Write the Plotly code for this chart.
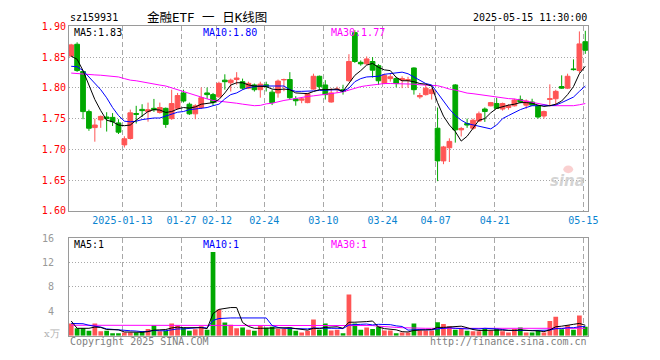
import plotly.graph_objects as go

# ---------------- data ----------------
opens = [1.8516, 1.8708, 1.8266, 1.7614, 1.7354, 1.7479, 1.7526, 1.752, 1.743, 1.7073,
         1.7177, 1.7583, 1.765, 1.7614, 1.7667, 1.760, 1.7667, 1.75, 1.7667, 1.7917,
         1.7734, 1.7578, 1.768, 1.7917, 1.789, 1.7854, 1.8125, 1.8083, 1.8135, 1.81,
         1.7995, 1.8047, 1.797, 1.805, 1.793, 1.7917, 1.813, 1.8135, 1.782, 1.780,
         1.776, 1.798, 1.8188, 1.8047, 1.777, 1.797, 1.797, 1.8116, 1.8897, 1.8415,
         1.839, 1.8428, 1.836, 1.807, 1.815, 1.815, 1.8125, 1.812, 1.8323, 1.7854,
         1.789, 1.7906, 1.7344, 1.6813, 1.7026, 1.8047, 1.7318, 1.742, 1.7344, 1.746,
         1.7656, 1.7708, 1.7745, 1.7656, 1.768, 1.7708, 1.7812, 1.7719, 1.777, 1.7708,
         1.7542, 1.7812, 1.7823, 1.8021, 1.7995, 1.8307, 1.8281, 1.875]
highs = [1.8715, 1.874, 1.8275, 1.7646, 1.75, 1.755, 1.7604, 1.759, 1.749, 1.7213,
         1.7646, 1.7708, 1.7734, 1.776, 1.782, 1.776, 1.768, 1.797, 1.7917, 1.797,
         1.776, 1.7734, 1.8005, 1.8005, 1.7917, 1.81, 1.822, 1.815, 1.8255, 1.815,
         1.81, 1.807, 1.81, 1.81, 1.797, 1.8135, 1.815, 1.8255, 1.7865, 1.785,
         1.7917, 1.823, 1.82, 1.8125, 1.7995, 1.802, 1.805, 1.8547, 1.8938, 1.8445,
         1.851, 1.850, 1.8385, 1.823, 1.823, 1.818, 1.8188, 1.818, 1.8333, 1.7917,
         1.8047, 1.7995, 1.768, 1.7057, 1.718, 1.806, 1.7365, 1.75, 1.75, 1.7615,
         1.7682, 1.7771, 1.7839, 1.776, 1.7734, 1.7823, 1.7875, 1.7812, 1.7823, 1.7719,
         1.763, 1.8057, 1.7969, 1.8203, 1.823, 1.8463, 1.8917, 1.8927]
lows = [1.850, 1.826, 1.749, 1.7302, 1.7125, 1.735, 1.729, 1.738, 1.725, 1.703,
        1.716, 1.742, 1.7526, 1.745, 1.761, 1.758, 1.735, 1.748, 1.7646, 1.776,
        1.756, 1.749, 1.7656, 1.782, 1.771, 1.784, 1.797, 1.794, 1.805, 1.797,
        1.798, 1.794, 1.784, 1.794, 1.772, 1.784, 1.7945, 1.781, 1.771, 1.775,
        1.775, 1.797, 1.797, 1.781, 1.776, 1.792, 1.789, 1.810, 1.8406, 1.836,
        1.8375, 1.8167, 1.8047, 1.806, 1.81, 1.801, 1.7995, 1.800, 1.789, 1.7823,
        1.7875, 1.781, 1.6484, 1.676, 1.6795, 1.711, 1.721, 1.735, 1.7318, 1.7447,
        1.7447, 1.770, 1.7656, 1.763, 1.7646, 1.7698, 1.775, 1.766, 1.7708, 1.75,
        1.75, 1.7708, 1.7708, 1.7984, 1.798, 1.8281, 1.824, 1.8552]
closes = [1.8698, 1.8281, 1.7614, 1.7344, 1.7396, 1.7536, 1.7500, 1.745, 1.728, 1.7172,
          1.7594, 1.757, 1.763, 1.7646, 1.7646, 1.768, 1.7406, 1.7745, 1.7875, 1.7786,
          1.7578, 1.7708, 1.7838, 1.789, 1.776, 1.8073, 1.81, 1.8125, 1.816, 1.7995,
          1.8073, 1.797, 1.806, 1.802, 1.776, 1.811, 1.8135, 1.784, 1.779, 1.782,
          1.7906, 1.8188, 1.802, 1.789, 1.7917, 1.798, 1.794, 1.8428, 1.8428, 1.839,
          1.847, 1.8287, 1.8115, 1.8203, 1.818, 1.807, 1.815, 1.8135, 1.797, 1.7875,
          1.7995, 1.797, 1.6813, 1.704, 1.713, 1.7318, 1.734, 1.7396, 1.7474, 1.7578,
          1.7615, 1.776, 1.7667, 1.7745, 1.7708, 1.7802, 1.777, 1.7786, 1.7719, 1.7526,
          1.7615, 1.7823, 1.7943, 1.7995, 1.8188, 1.8297, 1.8714, 1.861]

ma5 = [1.8516, 1.8464, 1.828, 1.8047, 1.781, 1.763, 1.7474, 1.745, 1.7396, 1.7385,
       1.7396, 1.7474, 1.755, 1.7615, 1.7646, 1.764, 1.760, 1.7615, 1.7656, 1.768,
       1.767, 1.769, 1.7734, 1.7745, 1.776, 1.781, 1.7917, 1.8045, 1.8083, 1.8083,
       1.8047, 1.803, 1.803, 1.802, 1.798, 1.797, 1.798, 1.797, 1.7917, 1.7906,
       1.7906, 1.794, 1.797, 1.797, 1.798, 1.798, 1.7943, 1.8073, 1.8203, 1.828,
       1.837, 1.8396, 1.8333, 1.8292, 1.828, 1.817, 1.8115, 1.8115, 1.81, 1.807,
       1.806, 1.803, 1.776, 1.754, 1.7396, 1.729, 1.7135, 1.7213, 1.7344, 1.7474,
       1.75, 1.7594, 1.7667, 1.7698, 1.7719, 1.7734, 1.776, 1.776, 1.775, 1.7719,
       1.7698, 1.771, 1.7734, 1.7786, 1.789, 1.802, 1.8229, 1.835]
ma10 = [1.835, 1.8344, 1.828, 1.8177, 1.8083, 1.797, 1.7838, 1.768, 1.755, 1.7458,
        1.7448, 1.7458, 1.7484, 1.75, 1.751, 1.751, 1.754, 1.7578, 1.7604, 1.7615,
        1.7646, 1.7656, 1.7667, 1.768, 1.771, 1.7734, 1.782, 1.789, 1.7917, 1.797,
        1.8005, 1.802, 1.803, 1.803, 1.803, 1.803, 1.803, 1.797, 1.7943, 1.7943,
        1.7943, 1.795, 1.7958, 1.7958, 1.7958, 1.797, 1.7943, 1.7995, 1.81, 1.815,
        1.8177, 1.8177, 1.8188, 1.822, 1.8229, 1.824, 1.8255, 1.8229, 1.8177, 1.8125,
        1.807, 1.8047, 1.7917, 1.7786, 1.7656, 1.755, 1.7474, 1.742, 1.7396, 1.737,
        1.7354, 1.7333, 1.7396, 1.75, 1.755, 1.7604, 1.7646, 1.768, 1.771, 1.771,
        1.772, 1.771, 1.772, 1.776, 1.781, 1.785, 1.7943, 1.803]
ma30 = [1.824, 1.823, 1.8225, 1.822, 1.821, 1.8205, 1.8195, 1.8185, 1.8177, 1.815,
        1.8125, 1.8115, 1.8095, 1.8075, 1.806, 1.8045, 1.803, 1.800, 1.797, 1.793,
        1.790, 1.787, 1.784, 1.782, 1.7795, 1.7786, 1.777, 1.776, 1.775, 1.7735,
        1.772, 1.771, 1.7715, 1.774, 1.775, 1.7775, 1.7795, 1.781, 1.783, 1.785,
        1.786, 1.787, 1.788, 1.789, 1.7905, 1.792, 1.7935, 1.7965, 1.7995, 1.802,
        1.8035, 1.805, 1.806, 1.807, 1.807, 1.807, 1.807, 1.8065, 1.806, 1.805,
        1.8047, 1.8045, 1.8035, 1.801, 1.798, 1.7965, 1.794, 1.7915, 1.7905, 1.789,
        1.7875, 1.7865, 1.785, 1.784, 1.7825, 1.782, 1.780, 1.779, 1.777, 1.775,
        1.772, 1.771, 1.771, 1.771, 1.771, 1.771, 1.7725, 1.7745]

volumes = [2.0, 1.2, 1.2, 0.8, 2.0, 0.7, 0.8, 0.4, 0.4, 0.5,
           0.5, 0.5, 0.7, 1.1, 1.7, 0.7, 0.8, 2.0, 1.7, 1.35,
           0.8, 1.05, 1.55, 0.95, 13.7, 4.3, 2.15, 1.8, 1.2, 1.35,
           0.95, 0.8, 1.6, 1.3, 1.45, 1.1, 1.1, 1.35, 0.8, 0.5,
           0.8, 2.65, 0.95, 2.0, 0.85, 0.95, 0.4, 6.75, 2.0, 0.95,
           1.35, 1.1, 1.55, 0.85, 0.85, 0.4, 0.5, 0.5, 2.0, 0.85,
           0.85, 0.85, 2.2, 1.9, 1.55, 0.95, 1.1, 0.8, 0.7, 0.7,
           1.2, 0.85, 1.1, 0.7, 0.5, 1.1, 1.35, 0.5, 0.5, 0.8,
           0.5, 2.4, 3.1, 1.05, 1.7, 0.95, 3.3, 1.45]
vol_ma5 = [2.4, 1.2, 1.2, 1.2, 1.4, 1.35, 1.0, 0.95, 0.95, 0.6,
           0.55, 0.5, 0.55, 0.65, 0.9, 0.95, 1.0, 1.25, 1.4, 1.3,
           1.3, 1.35, 1.3, 1.15, 3.6, 4.3, 4.5, 4.6, 4.6, 2.15,
           1.5, 1.2, 1.2, 1.2, 1.2, 1.25, 1.3, 1.3, 1.15, 1.0,
           0.9, 1.2, 1.15, 1.35, 1.45, 1.45, 1.2, 2.2, 2.2, 2.2,
           2.3, 2.4, 1.4, 1.15, 1.1, 0.95, 0.65, 0.6, 0.85, 0.85,
           0.95, 1.0, 1.35, 1.35, 1.45, 1.5, 1.55, 1.3, 1.0, 0.85,
           0.9, 0.85, 0.9, 0.9, 0.85, 0.85, 0.95, 0.85, 0.8, 0.8,
           0.65, 0.95, 1.45, 1.55, 1.75, 1.85, 2.0, 1.7]
vol_ma10 = [2.0, 2.0, 1.95, 1.7, 1.55, 1.4, 1.1, 1.0, 0.95, 0.9,
            0.8, 0.75, 0.65, 0.7, 0.85, 0.8, 0.8, 0.95, 1.1, 1.1,
            1.15, 1.3, 1.35, 1.25, 2.5, 2.8, 2.9, 2.9, 2.9, 2.9,
            2.9, 2.85, 2.9, 2.9, 1.65, 1.35, 1.2, 1.2, 1.2, 1.15,
            1.1, 1.25, 1.2, 1.25, 1.2, 1.2, 1.15, 1.75, 1.85, 1.85,
            1.9, 1.75, 1.85, 1.8, 1.8, 1.6, 1.5, 0.9, 1.0, 1.0,
            0.95, 0.95, 1.1, 1.2, 1.3, 1.2, 1.1, 1.1, 1.15, 1.1,
            1.2, 1.2, 1.1, 1.0, 0.85, 0.85, 0.9, 0.85, 0.85, 0.85,
            0.8, 0.9, 1.15, 1.15, 1.3, 1.3, 1.45, 1.5]
vol_ma30 = [1.7, 1.7, 1.7, 1.7, 1.7, 1.68, 1.68, 1.66, 1.66, 1.65,
            1.65, 1.65, 1.66, 1.66, 1.68, 1.68, 1.7, 1.7, 1.7, 1.7,
            1.7, 1.72, 1.72, 1.72, 1.72, 1.72, 1.72, 1.72, 1.72, 1.72,
            1.72, 1.72, 1.72, 1.72, 1.72, 1.72, 1.72, 1.72, 1.72, 1.72,
            1.72, 1.72, 1.72, 1.72, 1.72, 1.72, 1.72, 1.72, 1.72, 1.72,
            1.7, 1.65, 1.55, 1.45, 1.4, 1.35, 1.3, 1.25, 1.25, 1.2,
            1.2, 1.2, 1.2, 1.2, 1.2, 1.2, 1.15, 1.15, 1.15, 1.15,
            1.15, 1.15, 1.15, 1.15, 1.15, 1.12, 1.12, 1.12, 1.1, 1.1,
            1.1, 1.12, 1.15, 1.15, 1.18, 1.18, 1.2, 1.2]

tick_idx = [9, 19, 25, 33, 43, 53, 62, 72, 87]
tick_labels = ["2025-01-13", "01-27", "02-12", "02-24", "03-10", "03-24", "04-07", "04-21", "05-15"]
vol_tick_idx = [9, 19, 33, 43, 53, 62, 72, 87]
price_ticks = [1.60, 1.65, 1.70, 1.75, 1.80, 1.85, 1.90]
vol_ticks = [4, 8, 12, 16]

# ---------------- styling ----------------
RED = "#FF5555"
GREEN = "#00A800"
GRID = "#A8A8A8"
FRAME = "#9A9A9A"
MONO = "DejaVu Sans Mono"
W, H = 660, 360
X0, X1 = 70, 597
n = len(closes)
xs = list(range(n))
GRID_SHIFT = -0.33


def fx(px):
    return px / W


def fy(py):
    return 1 - py / H


fig = go.Figure()

fig.add_trace(go.Candlestick(
    x=xs, open=opens, high=highs, low=lows, close=closes,
    increasing=dict(line=dict(color=RED, width=1), fillcolor=RED),
    decreasing=dict(line=dict(color=GREEN, width=1), fillcolor=GREEN),
    whiskerwidth=0, hoverinfo="skip", xaxis="x", yaxis="y"))

for arr, col in ((ma30, "#FF00FF"), (ma10, "#0000FF"), (ma5, "#000000")):
    fig.add_trace(go.Scatter(x=xs, y=arr, mode="lines", line=dict(color=col, width=1),
                             hoverinfo="skip", xaxis="x", yaxis="y"))

vol_colors = [RED if c >= o else GREEN for o, c in zip(opens, closes)]
fig.add_trace(go.Bar(x=xs, y=volumes, marker=dict(color=vol_colors, line=dict(width=0)),
                     width=0.8, hoverinfo="skip", xaxis="x2", yaxis="y2"))
for arr, col in ((vol_ma30, "#FF00FF"), (vol_ma10, "#0000FF"), (vol_ma5, "#000000")):
    fig.add_trace(go.Scatter(x=xs, y=arr, mode="lines", line=dict(color=col, width=1),
                             hoverinfo="skip", xaxis="x2", yaxis="y2"))

xr = [-(72.3 - X0) / 6, (X1 - 72.3) / 6]
common_x = dict(range=xr, domain=[fx(X0), fx(X1)], showline=True, mirror=True,
                linecolor=FRAME, linewidth=1, zeroline=False, showgrid=True,
                gridcolor=GRID, griddash="5px,3px", gridwidth=1, ticks="",
                fixedrange=True)

fig.update_layout(
    width=W, height=H, margin=dict(l=0, r=0, t=0, b=0),
    paper_bgcolor="white", plot_bgcolor="white", showlegend=False,
    boxgap=0.2, boxgroupgap=0,
    font=dict(family=MONO, size=10, color="#000"),
    xaxis=dict(**common_x, tickvals=[i + GRID_SHIFT for i in tick_idx], ticktext=tick_labels,
               tickfont=dict(family=MONO, size=10, color="#0A84D0"),
               rangeslider=dict(visible=False), anchor="y"),
    yaxis=dict(range=[1.60, 1.90], domain=[fy(212), fy(21)], tickvals=price_ticks,
               ticktext=[f"{v:.2f}" for v in price_ticks],
               tickfont=dict(family=MONO, size=10, color="#FF0000"),
               showline=True, mirror=True, linecolor=FRAME, linewidth=1,
               showgrid=True, gridcolor=GRID, griddash="1px,2px", zeroline=False,
               ticks="", anchor="x", fixedrange=True),
    xaxis2=dict(**common_x, tickvals=[i + GRID_SHIFT for i in vol_tick_idx],
                showticklabels=False, anchor="y2"),
    yaxis2=dict(range=[0, 16], domain=[fy(341), fy(240)], tickvals=vol_ticks,
                tickfont=dict(family=MONO, size=10, color="#999999"),
                showline=True, mirror=True, linecolor=FRAME, linewidth=1,
                showgrid=True, gridcolor=GRID, griddash="1px,2px", zeroline=False,
                ticks="", ticklabelstandoff=12, anchor="x2", fixedrange=True),
)

ann = []


def txt(x, y, s, color="#000", size=10, family=MONO, xanchor="left"):
    ann.append(dict(x=fx(x), y=fy(y), xref="paper", yref="paper", text=s,
                    showarrow=False, xanchor=xanchor, yanchor="middle",
                    font=dict(family=family, size=size, color=color)))


txt(69, 12, "sz159931")
txt(210, 12, "金融ETF 一 日K线图", size=12.5,
    family="DejaVu Sans Mono, Noto Sans CJK SC", xanchor="center")
txt(598, 12, "2025-05-15 11:30:00", xanchor="right")
txt(73, 27, "MA5:1.83")
txt(204, 27, "MA10:1.80", color="#0000FF")
txt(334, 27, "MA30:1.77", color="#FF00FF")
txt(73, 247, "MA5:1")
txt(204, 247, "MA10:1", color="#0000FF")
txt(334, 247, "MA30:1", color="#FF00FF")
txt(63, 339, "x万", color="#B0B0B0", size=10, family="DejaVu Serif", xanchor="right")
txt(69, 347, "Copyright 2025 SINA.COM", color="#808080")
txt(598, 347, "http://finance.sina.com.cn", color="#808080", xanchor="right")
ann.append(dict(x=fx(576), y=fy(181), xref="paper", yref="paper", text="<b><i>sina</i></b>",
                showarrow=False, xanchor="center", yanchor="middle",
                font=dict(family="DejaVu Sans", size=15, color="rgba(200,200,200,0.8)")))
fig.update_layout(annotations=ann)

# faint logo "eye" of the watermark (decoration, not data)
fig.add_shape(type="circle", xref="paper", yref="paper",
              x0=fx(572), x1=fx(582), y0=fy(173), y1=fy(165),
              fillcolor="rgba(245,150,150,0.45)", line=dict(width=0), layer="above")

fig.write_html("out.html")
